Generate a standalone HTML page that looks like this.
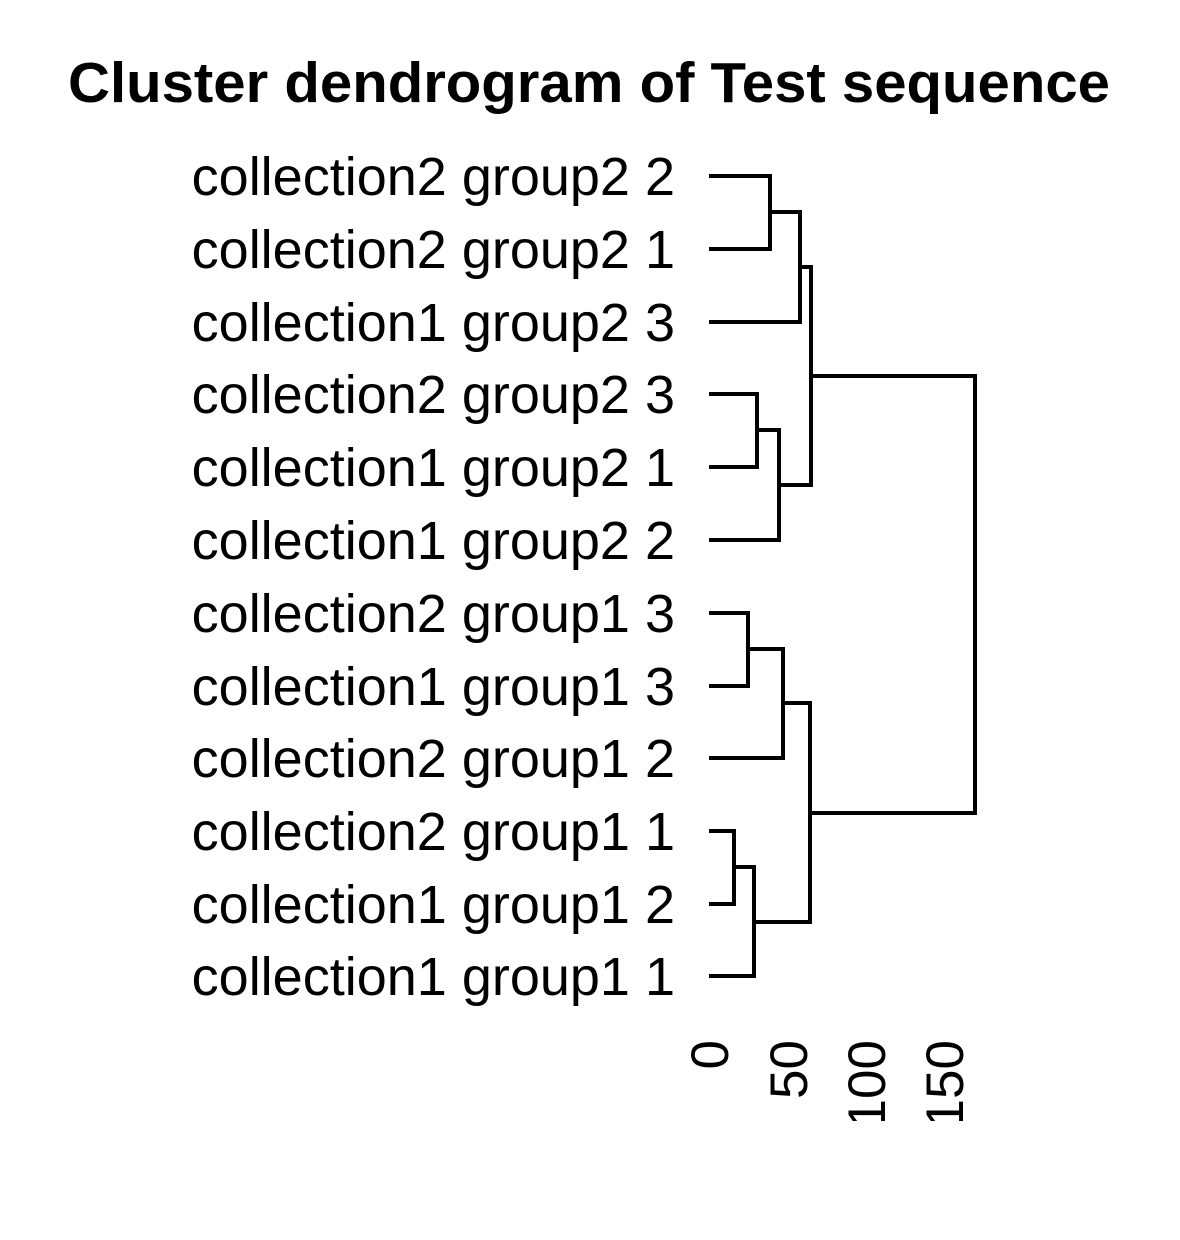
<!DOCTYPE html>
<html><head><meta charset="utf-8"><style>html,body{margin:0;padding:0;background:#fff}svg{display:block}</style></head>
<body>
<svg width="1180" height="1240" viewBox="0 0 1180 1240" xmlns="http://www.w3.org/2000/svg">
<rect width="1180" height="1240" fill="#fff"/>
<text x="589" y="102" text-anchor="middle" font-family="Liberation Sans, sans-serif" font-weight="bold" font-size="57" textLength="1042" lengthAdjust="spacingAndGlyphs">Cluster dendrogram of Test sequence</text>
<g font-family="Liberation Sans, sans-serif" font-size="54" text-anchor="end">
<text x="675" y="195">collection2 group2 2</text>
<text x="675" y="268">collection2 group2 1</text>
<text x="675" y="341">collection1 group2 3</text>
<text x="675" y="413">collection2 group2 3</text>
<text x="675" y="486">collection1 group2 1</text>
<text x="675" y="559">collection1 group2 2</text>
<text x="675" y="632">collection2 group1 3</text>
<text x="675" y="705">collection1 group1 3</text>
<text x="675" y="777">collection2 group1 2</text>
<text x="675" y="850">collection2 group1 1</text>
<text x="675" y="923">collection1 group1 2</text>
<text x="675" y="995">collection1 group1 1</text>
</g>
<g fill="none" stroke="#000" stroke-width="4">
<polyline points="709,176 770,176 770,249 709,249"/>
<polyline points="770,212 800,212 800,322 709,322"/>
<polyline points="800,267 811,267 811,485 779,485"/>
<polyline points="709,394 757,394 757,467 709,467"/>
<polyline points="757,430 779,430 779,540 709,540"/>
<polyline points="811,376 975,376 975,813 810,813"/>
<polyline points="709,613 748,613 748,686 709,686"/>
<polyline points="748,649 783,649 783,758 709,758"/>
<polyline points="783,703 810,703 810,922 754,922"/>
<polyline points="709,831 734,831 734,904 709,904"/>
<polyline points="734,867 754,867 754,976 709,976"/>
</g>
<g font-family="Liberation Sans, sans-serif" font-size="53" text-anchor="end">
<text transform="translate(728,1040) rotate(-90)">0</text>
<text transform="translate(807,1040) rotate(-90)">50</text>
<text transform="translate(885,1040) rotate(-90)">100</text>
<text transform="translate(963,1040) rotate(-90)">150</text>
</g>
<rect x="0" y="1121" width="1180" height="119" fill="#fff"/>
</svg>
</body></html>
